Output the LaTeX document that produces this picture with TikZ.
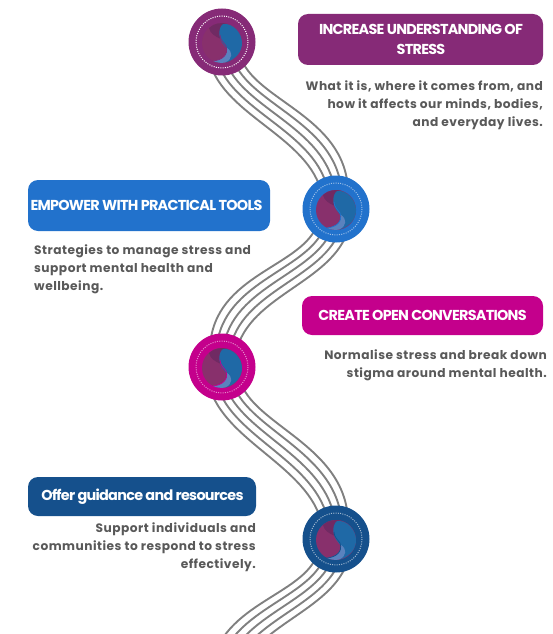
\documentclass[tikz,border=0pt]{standalone}
\usepackage{fontspec}
\setmainfont{Poppins}
\usetikzlibrary{calc}
\definecolor{cplum}{HTML}{862A77}
\definecolor{cblue}{HTML}{2272CC}
\definecolor{cpink}{HTML}{C4008C}
\definecolor{cnavy}{HTML}{15508C}
\definecolor{ctext}{HTML}{595959}
\definecolor{cwave}{HTML}{808080}
\definecolor{ymag}{HTML}{88306C}
\definecolor{ydark}{HTML}{702A63}
\definecolor{yblue}{HTML}{1F69A6}
\definecolor{ylight}{HTML}{5A82BE}
\tikzset{
  x=1pt,y=-1pt,
  wave/.style={draw=cwave,line width=1.9pt},
  hub/.style={circle,minimum size=67pt,inner sep=0pt,outer sep=0pt},
  banner/.style={text=white,align=center,font=\fontsize{14.4}{20}\selectfont\bfseries\addfontfeatures{LetterSpace=-5},inner sep=0pt,anchor=center},
  body/.style={text=ctext,font=\fontsize{12.2}{18}\selectfont\bfseries\addfontfeatures{LetterSpace=4},inner sep=0pt}
}
\newcommand{\logo}[3]{%
  \begin{scope}[shift={(#1)}]
    \begin{scope}[yshift=-1pt]
    \fill[ymag] (0,0) circle (20);
    \fill[ydark] (-13,-15) .. controls (-8,-20) and (0,-21) .. (6,-19) .. controls (-2,-17) and (-5,-8) .. (-1,-4) .. controls (-8,-7) and (-12,-10) .. (-13,-15) -- cycle;
    \fill[yblue] (1,-19) .. controls (12,-20) and (20,-9) .. (20,0) .. controls (20,9) and (14,16) .. (4,19.5) .. controls (8,12) and (6,6) .. (2,2) .. controls (-3,-3) and (-5,-14) .. (1,-19) -- cycle;
    \fill[ylight] (-9,18) .. controls (0,17) and (6,12) .. (5,5) .. controls (11,9) and (11,16) .. (3,19.6) .. controls (-1,20.2) and (-5,19.8) .. (-9,18) -- cycle;
    \draw[#2,line width=0.7pt] (-2,-8) .. controls (-2,-3) and (2,0) .. (4,3) .. controls (7,12) and (0,17) .. (-9,18);
    \end{scope}
    \draw[white,opacity=#3,line width=1pt,dash pattern=on 1pt off 1.3pt] (0,0) circle (26);
  \end{scope}}
\begin{document}
\begin{tikzpicture}
\useasboundingbox (0,0) rectangle (552,634);
\clip (0,0) rectangle (552,634);
\coordinate (p1) at (222,42);
\coordinate (p2) at (336,209);
\coordinate (p3) at (222,367);
\coordinate (p4) at (336,539);
\coordinate (p5) at (222,697);
% waves
\foreach \s in {-1,-0.5,0,0.5,1}{
  \draw[wave] ($(p1)+(2+16*\s,13)$) .. controls ($(p1)+(13+17*\s,65.5-7.5*\s)$) and ($(p2)+(-8.5+17.5*\s,-84-10*\s)$) .. ($(p2)+(-1+13*\s,-16.5-2.5*\s)$);
  \draw[wave] ($(p3)+(2+16*\s,13)$) .. controls ($(p3)+(13+17*\s,65.5-7.5*\s)$) and ($(p4)+(-8.5+17.5*\s,-84-10*\s)$) .. ($(p4)+(-1+13*\s,-16.5-2.5*\s)$);
  \draw[wave] ($(p2)+(-2-16*\s,13)$) .. controls ($(p2)+(-13-17*\s,65.5-7.5*\s)$) and ($(p3)+(8.5-17.5*\s,-84-10*\s)$) .. ($(p3)+(1-13*\s,-16.5-2.5*\s)$);
  \draw[wave] ($(p4)+(-2-16*\s,13)$) .. controls ($(p4)+(-13-17*\s,65.5-7.5*\s)$) and ($(p5)+(8.5-17.5*\s,-84-10*\s)$) .. ($(p5)+(1-13*\s,-16.5-2.5*\s)$);
}
% hubs
\node[hub,fill=cplum] (c1) at (p1) {};
\node[hub,fill=cblue] (c2) at (p2) {};
\node[hub,fill=cpink] (c3) at (p3) {};
\node[hub,fill=cnavy] (c4) at (p4) {};
\logo{p1}{cplum}{1}
\logo{p2}{cblue}{0.55}
\logo{p3}{cpink}{0.55}
\logo{p4}{cnavy}{0.6}
% banners
\fill[cplum,rounded corners=10pt] (298,14) rectangle (543,65);
\node[banner] (b1) at (421,39.5) {INCREASE UNDERSTANDING OF\\STRESS};
\fill[cblue,rounded corners=10pt] (28,180) rectangle (270,231);
\node[banner] (b2) at (146.5,205.5) {EMPOWER WITH PRACTICAL TOOLS};
\fill[cpink,rounded corners=10pt] (302,296) rectangle (543,335);
\node[banner] (b3) at (422.5,315.5) {CREATE OPEN CONVERSATIONS};
\fill[cnavy,rounded corners=10pt] (28,477) rectangle (256,516);
\node[banner] (b4) at (142.5,497) {Offer guidance and resources};
% body text
\node[body,align=right,anchor=north east] (t1) at (543,81) {What it is, where it comes from, and\\how it affects our minds, bodies,\\and everyday lives.};
\node[body,align=left,anchor=north west] (t2) at (34,245) {Strategies to manage stress and\\support mental health and\\wellbeing.};
\node[body,align=right,anchor=north east] (t3) at (547,350) {Normalise stress and break down\\stigma around mental health.};
\node[body,align=right,anchor=north east] (t4) at (256,523) {Support individuals and\\communities to respond to stress\\effectively.};
\end{tikzpicture}
\end{document}
